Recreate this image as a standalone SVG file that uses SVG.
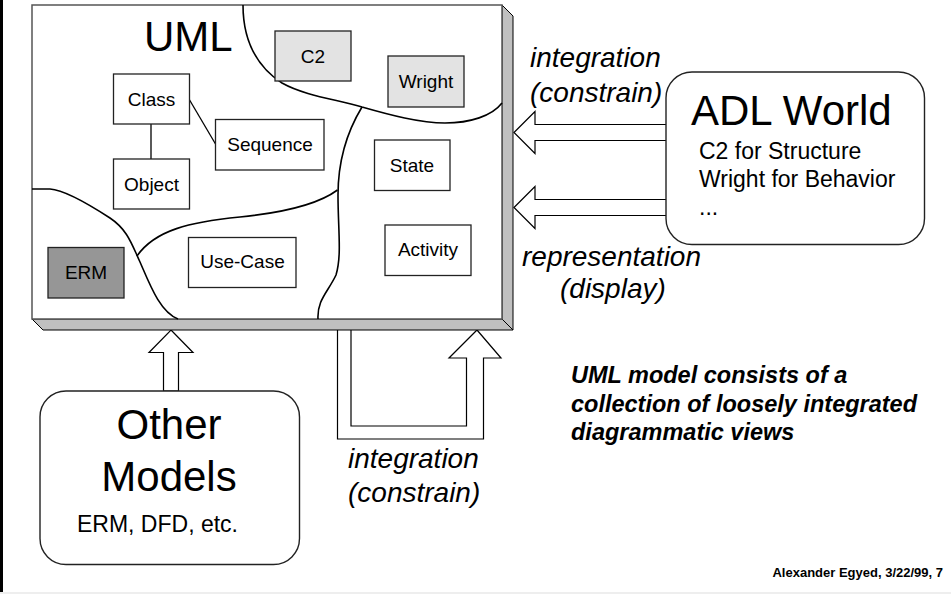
<svg xmlns="http://www.w3.org/2000/svg" width="951" height="594" viewBox="0 0 951 594">
<style>
.t{font-family:"Liberation Sans",Arial,sans-serif;fill:#000}
.box{fill:#fff;stroke:#222;stroke-width:1.3}
.lt{fill:#e3e3e3}
.dk{fill:#969696}
.lbl{font-size:19px;text-anchor:middle}
.it{font-size:28px;font-style:italic}
.sub{font-size:23px}
.big{font-size:42px}
.arr{fill:#fff;stroke:#000;stroke-width:1.2;stroke-linejoin:miter}
.cv{fill:none;stroke:#000;stroke-width:1.6}
.rb{fill:#fff;stroke:#222;stroke-width:1.4}
.note{font-size:23.5px;font-weight:bold;font-style:italic}
</style>
<rect x="0" y="0" width="951" height="594" fill="#fff"/>
<rect x="0" y="0" width="3" height="592" fill="#000"/>
<rect x="0" y="592" width="951" height="2" fill="#eee"/>

<g id="connectors">
<polygon class="arr" points="514,132.5 535,111.5 535,124.5 667,124.5 667,140.5 535,140.5 535,153.5"/>
<polygon class="arr" points="514,207.5 535,186.5 535,199.5 667,199.5 667,215.5 535,215.5 535,228.5"/>
<polygon class="arr" points="171,330 193,352.5 178.5,352.5 178.5,391 163.5,391 163.5,352.5 149,352.5"/>
<polygon class="arr" points="337.5,329 337.5,439 483.5,439 483.5,358 501,358 477,330 449,358 466.5,358 466.5,426 351,426 351,329"/>
</g>

<g id="uml">
<polygon points="502,5 513,16 513,330 502,319" fill="#c0c0c0" stroke="#000" stroke-width="1"/>
<polygon points="32,319 502,319 513,330 43,330" fill="#c0c0c0" stroke="#000" stroke-width="1"/>
<rect x="32" y="5" width="470" height="314" fill="#fff" stroke="#555" stroke-width="1.5"/>
<path class="cv" d="M243,5 C243,30 250,62 282,83 C305,96 340,100 362,107 C390,115 420,123 445,123 C470,123 492,116 502,103"/>
<path class="cv" d="M362,107 C345,135 338,165 338,195 C338,230 342,255 336,275 C328,292 317,300 318,319"/>
<path class="cv" d="M337.5,190 C320,203 290,212 240,217 C190,222 155,230 137,256"/>
<path class="cv" d="M32,189 L50,189 C65,190 90,205 110,218 C128,230 132,245 140,262 C150,285 160,312 178,319"/>
<text class="t big" x="144" y="51">UML</text>
<line x1="151" y1="124" x2="151" y2="159" stroke="#000" stroke-width="1.3"/>
<line x1="189" y1="99" x2="215.5" y2="144" stroke="#000" stroke-width="1.3"/>
</g>

<g id="c2"><rect class="box lt" x="275" y="31" width="76" height="50"/><text class="t lbl" x="313" y="62.5">C2</text></g>
<g id="wright"><rect class="box lt" x="388" y="56" width="76" height="51"/><text class="t lbl" x="426" y="87.5">Wright</text></g>
<g id="class"><rect class="box" x="113.5" y="74" width="76" height="50"/><text class="t lbl" x="151.5" y="105.5">Class</text></g>
<g id="object"><rect class="box" x="113.5" y="159" width="76" height="50"/><text class="t lbl" x="151.5" y="190.5">Object</text></g>
<g id="sequence"><rect class="box" x="215.5" y="119.5" width="108.5" height="50.5"/><text class="t lbl" x="270" y="150.5">Sequence</text></g>
<g id="state"><rect class="box" x="374.5" y="140" width="75.5" height="50.5"/><text class="t lbl" x="412" y="172">State</text></g>
<g id="activity"><rect class="box" x="385" y="225" width="86" height="50.5"/><text class="t lbl" x="428" y="255.5">Activity</text></g>
<g id="usecase"><rect class="box" x="188.5" y="237.5" width="107.5" height="50"/><text class="t lbl" x="242.5" y="268">Use-Case</text></g>
<g id="erm"><rect class="box dk" x="48" y="247.5" width="76" height="50.5"/><text class="t lbl" x="86" y="278.5">ERM</text></g>

<g id="adl">
<rect class="rb" x="666" y="72" width="258.5" height="172.5" rx="26" ry="26"/>
<text class="t big" x="691" y="125">ADL World</text>
<text class="t sub" x="699" y="159">C2 for Structure</text>
<text class="t sub" x="699" y="187">Wright for Behavior</text>
<text class="t sub" x="699" y="215">...</text>
</g>

<g id="other">
<rect class="rb" x="40" y="391" width="259.5" height="173.5" rx="26" ry="26"/>
<text class="t big" x="169" y="439" text-anchor="middle">Other</text>
<text class="t big" x="169" y="491" text-anchor="middle">Models</text>
<text class="t sub" x="157.5" y="532" text-anchor="middle">ERM, DFD, etc.</text>
</g>

<g id="labels">
<text class="t it" x="530" y="67">integration</text>
<text class="t it" x="530" y="102">(constrain)</text>
<text class="t it" x="522" y="266">representation</text>
<text class="t it" x="560" y="298">(display)</text>
<text class="t it" x="348" y="468">integration</text>
<text class="t it" x="348" y="502">(constrain)</text>
</g>

<g id="note">
<text class="t note" x="571" y="383">UML model consists of a</text>
<text class="t note" x="571" y="412">collection of loosely integrated</text>
<text class="t note" x="571" y="440">diagrammatic views</text>
</g>
<text class="t" x="943" y="577" font-size="13" font-weight="bold" text-anchor="end">Alexander Egyed, 3/22/99, 7</text>
</svg>
